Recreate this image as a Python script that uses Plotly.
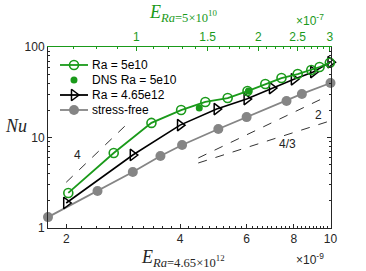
import numpy as np
import plotly.graph_objects as go

# ---------------- data ----------------
# Ra = 4.65e12 (bottom axis, E in units of 1e-9)
E_black = [2, 3, 4, 5, 6, 7, 8, 9, 10]
Nu_black = [1.89, 6.41, 13.7, 20.6, 26.6, 35.2, 44.0, 52.9, 68.0]

# stress-free (bottom axis)
E_gray = [1.79, 2.42, 3.0, 3.55, 4.05, 5.05, 6.0, 7.65, 8.4, 10.0]
Nu_gray = [1.32, 2.56, 4.16, 6.25, 8.26, 12.4, 16.8, 25.3, 30.3, 40.0]

# Ra = 5e10 (top axis, E in units of 1e-7)
E_green = [0.68, 0.88, 1.09, 1.29, 1.48, 1.68, 1.88, 2.08, 2.28, 2.5, 2.7, 2.83, 3.0]
Nu_green = [2.44, 6.74, 14.5, 20.1, 24.7, 27.3, 32.6, 39.0, 45.4, 50.3, 55.7, 60.1, 67.0]

# DNS Ra = 5e10 (top axis)
E_dns = [1.43, 1.89]
Nu_dns = [21.2, 32.6]

# reference slopes (bottom axis units)
slope4_E = [2.0, 2.93]
slope4_Nu = [3.2, 3.2 * (2.93 / 2.0) ** 4]
slope2_E = [4.47, 9.70]
slope2_Nu = [5.94, 5.94 * (9.70 / 4.47) ** 2]
slope43_E = [4.47, 9.88]
slope43_Nu = [5.23, 5.23 * (9.88 / 4.47) ** (4 / 3)]

bottom_ticks = [2, 4, 6, 8, 10]
top_ticks = [1, 1.5, 2, 2.5, 3]
y_ticks = [1, 10, 100]

legend_labels = ["Ra = 5e10", "DNS Ra = 5e10", "Ra = 4.65e12", "stress-free"]

GREEN = "#1a9a1a"
GRAY = "#858585"
AX = "#262626"

s_lo = 1e-9
s_hi = 1e-7

fig = go.Figure()

# dashed slope guides
for xs, ys in [(slope4_E, slope4_Nu), (slope2_E, slope2_Nu), (slope43_E, slope43_Nu)]:
    fig.add_trace(go.Scatter(x=[v * s_lo for v in xs], y=ys, mode="lines",
                             line=dict(color="#333333", width=1, dash="dash"),
                             showlegend=False, hoverinfo="skip"))

fig.add_trace(go.Scatter(x=[v * s_lo for v in E_gray], y=Nu_gray, mode="lines+markers",
                         line=dict(color=GRAY, width=1.8),
                         marker=dict(symbol="circle", size=10, color=GRAY),
                         cliponaxis=False, showlegend=False))
fig.add_trace(go.Scatter(x=[v * s_lo for v in E_black], y=Nu_black, mode="lines+markers",
                         line=dict(color="black", width=1.6),
                         marker=dict(symbol="triangle-right-open", size=10, color="black",
                                     line=dict(width=1.5)),
                         cliponaxis=False, showlegend=False))
fig.add_trace(go.Scatter(x=[v * s_hi for v in E_green], y=Nu_green, mode="lines+markers",
                         xaxis="x2", yaxis="y",
                         line=dict(color=GREEN, width=1.8),
                         marker=dict(symbol="circle-open", size=9, color=GREEN,
                                     line=dict(width=1.6)),
                         cliponaxis=False, showlegend=False))
fig.add_trace(go.Scatter(x=[v * s_hi for v in E_dns], y=Nu_dns, mode="markers",
                         xaxis="x2", yaxis="y",
                         marker=dict(symbol="circle", size=7, color=GREEN),
                         cliponaxis=False, showlegend=False))

# ---- manual legend on a hidden unit axis ----
row_y = [0.9006, 0.8177, 0.7348, 0.652]
lx0, lx1 = 0.0424, 0.1413
lxm = (lx0 + lx1) / 2
leg_styles = [
    dict(line=True, color=GREEN, marker=dict(symbol="circle-open", size=9, color=GREEN, line=dict(width=1.6))),
    dict(line=False, color=GREEN, marker=dict(symbol="circle", size=7, color=GREEN)),
    dict(line=True, color="black", marker=dict(symbol="triangle-right-open", size=10, color="black", line=dict(width=1.5))),
    dict(line=True, color=GRAY, marker=dict(symbol="circle", size=10, color=GRAY)),
]
for yy, st, lab in zip(row_y, leg_styles, legend_labels):
    if st["line"]:
        fig.add_trace(go.Scatter(x=[lx0, lx1], y=[yy, yy], mode="lines", xaxis="x3", yaxis="y3",
                                 line=dict(color=st["color"], width=1.8), showlegend=False,
                                 hoverinfo="skip", cliponaxis=False))
    fig.add_trace(go.Scatter(x=[lxm], y=[yy], mode="markers", xaxis="x3", yaxis="y3",
                             marker=st["marker"], showlegend=False, hoverinfo="skip",
                             cliponaxis=False))
    fig.add_annotation(x=0.148, y=yy, xref="x3", yref="y3", text=lab, showarrow=False,
                       xanchor="left", yanchor="middle",
                       font=dict(family="Liberation Sans, Arial", size=12, color="black"))

# slope labels
for tx, ty, tt in [(2.14, 6.4, "4"), (9.29, 17.7, "2"), (7.69, 8.48, "4/3")]:
    fig.add_annotation(x=np.log10(tx * s_lo), y=np.log10(ty), xref="x", yref="y", text=tt,
                       showarrow=False, font=dict(family="Liberation Sans, Arial", size=12, color="#222222"))

minor_bottom = [v * s_lo for v in np.round(np.arange(1.8, 10.0, 0.2), 2) if round(v, 2) not in bottom_ticks]
minor_top = [v * s_hi for v in np.round(np.arange(0.7, 3.0, 0.1), 2) if round(v, 2) not in top_ticks]
minor_y = [m * d for d in [1, 10] for m in range(2, 10)]

font_ax = dict(family="Liberation Sans, Arial", size=12, color=AX)

fig.update_layout(
    width=366, height=271,
    margin=dict(l=48, r=35, t=47, b=43),
    paper_bgcolor="white", plot_bgcolor="white",
    showlegend=False,
    xaxis=dict(type="log", range=[np.log10(1.79e-9), np.log10(10.03e-9)],
               tickmode="array", tickvals=[v * s_lo for v in bottom_ticks],
               ticktext=[str(v) for v in bottom_ticks],
               ticks="inside", ticklen=4, tickcolor=AX, tickwidth=1,
               minor=dict(tickmode="array", tickvals=minor_bottom, ticks="inside", ticklen=2,
                          tickcolor=AX, showgrid=False),
               showline=True, linecolor=AX, linewidth=1, mirror=False,
               showgrid=False, zeroline=False, tickfont=font_ax),
    xaxis2=dict(type="log", overlaying="x", side="top",
                range=[np.log10(0.606e-7), np.log10(3.02e-7)],
                tickmode="array", tickvals=[v * s_hi for v in top_ticks],
                ticktext=[str(v) for v in top_ticks],
                ticks="inside", ticklen=4, tickcolor=GREEN, tickwidth=1,
                minor=dict(tickmode="array", tickvals=minor_top, ticks="inside", ticklen=2,
                           tickcolor=GREEN, showgrid=False),
                showline=True, linecolor=GREEN, linewidth=1,
                showgrid=False, zeroline=False,
                tickfont=dict(family="Liberation Sans, Arial", size=12, color=GREEN)),
    yaxis=dict(type="log", range=[0, 2], tickmode="array", tickvals=y_ticks,
               ticktext=[str(v) for v in y_ticks],
               ticks="inside", ticklen=4, tickcolor=AX, tickwidth=1,
               minor=dict(tickmode="array", tickvals=minor_y, ticks="inside", ticklen=2,
                          tickcolor=AX, showgrid=False),
               showline=True, linecolor=AX, linewidth=1, mirror="ticks",
               showgrid=False, zeroline=False, tickfont=font_ax),
    xaxis3=dict(overlaying="x", range=[0, 1], visible=False, fixedrange=True),
    yaxis3=dict(overlaying="y", range=[0, 1], visible=False, fixedrange=True),
)

# axis titles and exponent labels
serif = "Liberation Serif, Times New Roman, serif"
fig.add_annotation(x=(3 - 48) / 283, y=(228 - 126) / 181, xref="paper", yref="paper",
                   text="<i>Nu</i>", showarrow=False, xanchor="left", yanchor="middle",
                   font=dict(family=serif, size=18, color=AX))
fig.add_annotation(x=(139 - 48) / 283, y=(228 - 258) / 181, xref="paper", yref="paper",
                   text="<i>E</i><sub><i>Ra</i>=4.65×10<sup>12</sup></sub>", showarrow=False,
                   xanchor="left", yanchor="middle",
                   font=dict(family=serif, size=18, color=AX))
fig.add_annotation(x=(147 - 48) / 283, y=(228 - 13) / 181, xref="paper", yref="paper",
                   text="<i>E</i><sub><i>Ra</i>=5×10<sup>10</sup></sub>", showarrow=False,
                   xanchor="left", yanchor="middle",
                   font=dict(family=serif, size=18, color=GREEN))
fig.add_annotation(x=(294 - 48) / 283, y=(228 - 259) / 181, xref="paper", yref="paper",
                   text="×10<sup>-9</sup>", showarrow=False, xanchor="left", yanchor="middle",
                   font=dict(family="Liberation Sans, Arial", size=12, color=AX))
fig.add_annotation(x=(294 - 48) / 283, y=(228 - 20) / 181, xref="paper", yref="paper",
                   text="×10<sup>-7</sup>", showarrow=False, xanchor="left", yanchor="middle",
                   font=dict(family="Liberation Sans, Arial", size=12, color=GREEN))

fig.write_html("out.html", config={"displayModeBar": False},
               post_script="document.body.style.margin='0';document.body.style.overflow='hidden';")
